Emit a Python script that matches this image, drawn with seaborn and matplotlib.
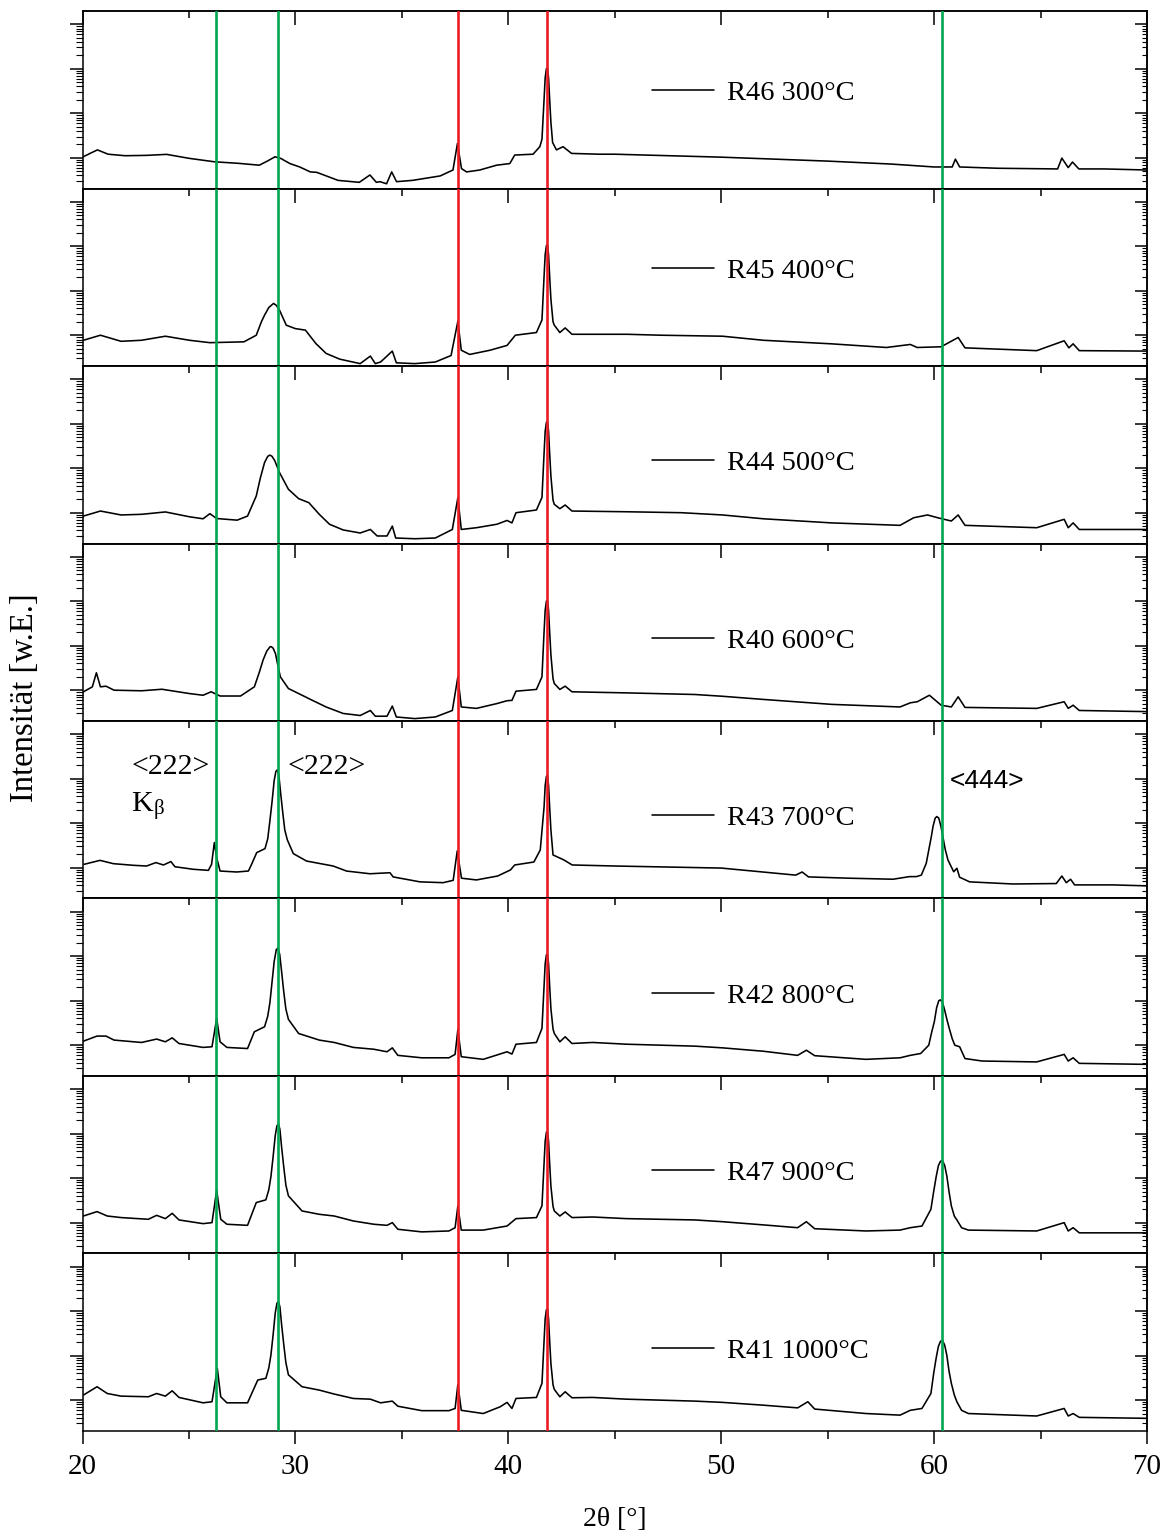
import numpy as np
import pandas as pd
import matplotlib
matplotlib.use("Agg")
import matplotlib.pyplot as plt
import seaborn as sns
from matplotlib.ticker import LogLocator, MultipleLocator, NullFormatter

# ---------------------------------------------------------------------------
# XRD scans: (2theta [deg], intensity [counts]) points, one list per sample
# ---------------------------------------------------------------------------
scan_r46 = [(20.0, 103), (20.35, 125), (20.7, 150), (21.2, 120), (22.0, 111), (23.0, 113),
            (23.95, 119), (25.0, 97), (26.2, 81), (27.3, 75), (28.3, 68), (28.7, 85),
            (29.04, 105), (29.3, 97), (29.74, 74), (30.2, 62), (30.7, 48), (31.0, 47),
            (32.0, 31), (33.0, 28), (33.5, 41), (33.8, 28), (33.97, 29), (34.28, 26),
            (34.52, 48), (34.75, 29), (35.5, 31), (36.8, 39), (37.4, 53), (37.61, 210),
            (37.8, 57), (38.04, 48), (38.66, 53), (39.45, 68), (40.07, 74), (40.3, 115),
            (41.16, 120), (41.48, 177), (41.58, 260), (41.68, 2100), (41.73, 6200),
            (41.79, 10100), (41.84, 10400), (41.89, 6200), (41.94, 2100), (42.0, 620),
            (42.08, 220), (42.26, 150), (42.57, 177), (42.97, 125), (44.3, 120), (45.0, 120),
            (50.0, 103), (55.0, 84), (58.0, 72), (60.0, 62), (60.85, 62), (61.0, 93),
            (61.2, 62), (63.0, 58), (65.8, 56), (66.0, 98), (66.3, 60), (66.5, 80),
            (66.8, 56), (68.0, 56), (70.0, 53)]

scan_r45 = [(20.04, 77), (20.84, 100), (21.81, 73), (22.77, 77), (23.89, 95), (25.02, 77),
            (25.98, 68), (27.58, 71), (28.16, 100), (28.4, 200), (28.55, 283), (28.75, 420),
            (28.97, 518), (29.1, 470), (29.25, 367), (29.57, 168), (29.99, 141), (30.47, 130),
            (30.96, 65), (31.44, 39), (32.08, 29), (33.04, 23), (33.52, 34), (33.75, 23),
            (34.0, 25), (34.55, 44), (34.74, 24), (35.61, 23), (36.57, 25), (37.31, 35),
            (37.63, 207), (37.79, 46), (38.18, 37), (39.14, 46), (39.94, 59), (40.33, 100),
            (41.32, 115), (41.58, 220), (41.68, 2150), (41.73, 6400), (41.79, 10400),
            (41.84, 10700), (41.89, 6400), (41.94, 2150), (42.0, 640), (42.1, 200),
            (42.16, 168), (42.42, 115), (42.67, 146), (42.99, 105), (45.56, 105), (47.17, 100),
            (50.06, 95), (51.98, 77), (55.19, 64), (57.76, 53), (58.88, 62), (59.21, 53),
            (60.33, 55), (61.13, 89), (61.45, 52), (64.82, 45), (66.11, 75), (66.33, 52),
            (66.53, 64), (66.82, 45), (70.0, 44)]

scan_r44 = [(20.04, 84), (20.84, 109), (21.81, 89), (22.77, 92), (23.89, 104), (25.02, 81),
            (25.66, 73), (25.98, 95), (26.3, 74), (27.26, 68), (27.75, 84), (28.16, 238),
            (28.35, 600), (28.55, 1345), (28.7, 1850), (28.8, 1970), (28.9, 1850),
            (29.03, 1470), (29.25, 800), (29.67, 336), (30.15, 207), (30.63, 168), (31.12, 92),
            (31.6, 55), (32.24, 41), (33.04, 35), (33.52, 42), (33.84, 30), (34.3, 30),
            (34.55, 50), (34.71, 27), (35.61, 26), (36.57, 27), (37.37, 42), (37.63, 218),
            (37.79, 42), (38.5, 46), (39.46, 55), (39.94, 67), (40.17, 59), (40.36, 100),
            (41.32, 115), (41.58, 220), (41.68, 2200), (41.73, 6700), (41.79, 10800),
            (41.84, 11100), (41.89, 6700), (41.94, 2200), (42.0, 660), (42.1, 190),
            (42.16, 154), (42.42, 123), (42.67, 149), (42.99, 109), (45.56, 105), (48.13, 100),
            (50.06, 89), (51.98, 73), (55.19, 59), (58.4, 52), (59.04, 77), (59.69, 89),
            (60.17, 77), (60.81, 65), (61.13, 89), (61.45, 52), (64.82, 46), (66.11, 71),
            (66.3, 46), (66.53, 59), (66.82, 42), (70.0, 42)]

scan_r40 = [(20.04, 92), (20.46, 119), (20.65, 246), (20.84, 119), (21.1, 123), (21.48, 100),
            (22.77, 97), (23.73, 105), (25.02, 84), (25.66, 77), (26.04, 92), (26.46, 74),
            (27.42, 74), (28.07, 119), (28.3, 250), (28.48, 476), (28.65, 750), (28.8, 940),
            (28.87, 950), (28.95, 880), (29.06, 670), (29.18, 350), (29.29, 200), (29.67, 109),
            (30.15, 84), (30.8, 59), (31.44, 42), (32.24, 30), (33.04, 27), (33.52, 35),
            (33.75, 26), (34.3, 26), (34.55, 44), (34.74, 25), (35.61, 23), (36.57, 25),
            (37.37, 35), (37.63, 200), (37.79, 42), (38.5, 39), (39.46, 50), (39.94, 58),
            (40.17, 59), (40.36, 95), (41.32, 104), (41.58, 200), (41.68, 2100), (41.73, 6200),
            (41.79, 10100), (41.84, 10400), (41.89, 6200), (41.94, 2100), (42.0, 620),
            (42.1, 180), (42.16, 141), (42.42, 104), (42.67, 123), (42.99, 92), (45.56, 87),
            (48.77, 80), (50.06, 73), (51.98, 62), (55.19, 48), (58.4, 42), (58.88, 52),
            (59.21, 55), (59.78, 77), (60.33, 46), (60.81, 42), (61.13, 71), (61.45, 41),
            (64.82, 39), (66.11, 55), (66.3, 39), (66.53, 46), (66.82, 35), (70.0, 33)]

scan_r43 = [(20.07, 119), (20.82, 146), (21.45, 123), (22.39, 113), (23.01, 109), (23.44, 130),
            (23.8, 115), (24.15, 137), (24.34, 105), (25.2, 92), (25.91, 87), (26.06, 119),
            (26.19, 367), (26.3, 168), (26.46, 84), (27.24, 80), (27.79, 84), (27.94, 119),
            (28.18, 218), (28.57, 268), (28.7, 450), (28.8, 1130), (28.9, 3000), (29.0, 9000),
            (29.08, 14500), (29.15, 15800), (29.22, 12000), (29.3, 5000), (29.4, 1800),
            (29.5, 700), (29.62, 420), (29.9, 207), (30.52, 141), (31.77, 109), (32.4, 84),
            (33.5, 73), (34.44, 77), (34.59, 62), (35.85, 48), (36.94, 46), (37.41, 52),
            (37.6, 238), (37.8, 58), (38.5, 53), (39.5, 65), (40.1, 89), (40.3, 115),
            (41.2, 134), (41.5, 250), (41.68, 2350), (41.73, 7000), (41.79, 11300),
            (41.84, 11700), (41.89, 7000), (41.94, 2350), (42.0, 700), (42.1, 193),
            (42.6, 150), (43.0, 115), (45.0, 109), (50.0, 98), (53.5, 68), (53.8, 80),
            (54.1, 62), (56.0, 58), (58.07, 55), (58.85, 63), (59.17, 63), (59.4, 68),
            (59.63, 125), (59.75, 250), (59.87, 500), (59.95, 850), (60.05, 1300),
            (60.13, 1410), (60.22, 1300), (60.32, 850), (60.41, 500), (60.52, 260),
            (60.65, 149), (60.92, 81), (61.07, 97), (61.2, 61), (61.67, 48), (63.7, 43),
            (65.74, 44), (66.0, 65), (66.21, 46), (66.41, 55), (66.6, 41), (68.4, 41),
            (70.0, 39)]

scan_r42 = [(20.04, 123), (20.68, 160), (21.1, 160), (21.48, 130), (22.77, 115), (23.48, 137),
            (23.89, 119), (24.21, 146), (24.53, 109), (25.66, 89), (26.08, 92), (26.3, 400),
            (26.46, 119), (26.78, 89), (27.75, 84), (28.07, 200), (28.55, 259), (28.7, 450),
            (28.8, 900), (28.9, 2600), (29.0, 7500), (29.1, 14000), (29.18, 15200),
            (29.26, 11000), (29.35, 4500), (29.45, 1600), (29.55, 650), (29.67, 380),
            (30.15, 183), (31.12, 130), (31.82, 115), (32.72, 89), (33.68, 81), (34.3, 71),
            (34.55, 87), (34.81, 59), (35.93, 52), (37.21, 52), (37.5, 62), (37.63, 226),
            (37.79, 55), (38.82, 48), (39.94, 71), (40.17, 63), (40.36, 105), (41.32, 115),
            (41.58, 238), (41.68, 2200), (41.73, 6700), (41.79, 10800), (41.84, 11100),
            (41.89, 6700), (41.94, 2200), (42.0, 660), (42.1, 230), (42.16, 183),
            (42.42, 119), (42.67, 154), (42.99, 109), (43.96, 115), (45.56, 105), (48.77, 95),
            (50.06, 87), (51.98, 73), (53.59, 59), (54.0, 77), (54.39, 58), (56.8, 48),
            (58.4, 52), (58.88, 59), (59.37, 65), (59.75, 100), (59.88, 190), (60.01, 336),
            (60.12, 700), (60.22, 1000), (60.3, 1040), (60.4, 900), (60.5, 600), (60.6, 380),
            (60.71, 240), (60.85, 140), (60.97, 100), (61.2, 92), (61.45, 50), (62.26, 44),
            (64.82, 42), (66.11, 62), (66.3, 44), (66.53, 52), (66.82, 39), (70.0, 37)]

scan_r47 = [(20.04, 141), (20.68, 177), (21.16, 141), (21.81, 130), (23.09, 119), (23.48, 146),
            (23.89, 123), (24.21, 162), (24.53, 115), (25.66, 95), (26.08, 100), (26.3, 536),
            (26.49, 119), (26.78, 92), (27.75, 87), (28.16, 283), (28.61, 325), (28.75, 550),
            (28.85, 1100), (28.95, 3000), (29.05, 9000), (29.13, 15000), (29.2, 16600),
            (29.27, 12500), (29.35, 5000), (29.45, 1800), (29.55, 700), (29.67, 400),
            (30.31, 183), (31.12, 154), (31.82, 141), (32.72, 109), (33.68, 92), (34.3, 87),
            (34.55, 100), (34.81, 71), (35.93, 62), (37.21, 65), (37.5, 77), (37.63, 238),
            (37.79, 68), (38.82, 68), (39.94, 84), (40.36, 123), (41.32, 130), (41.58, 238),
            (41.68, 2200), (41.73, 6700), (41.79, 10800), (41.84, 11100), (41.89, 6700),
            (41.94, 2200), (42.0, 660), (42.1, 230), (42.16, 183), (42.42, 141), (42.67, 174),
            (42.99, 130), (43.96, 134), (45.56, 123), (48.77, 115), (50.06, 105), (51.98, 89),
            (53.59, 77), (54.0, 105), (54.39, 73), (56.8, 65), (58.4, 68), (58.88, 77),
            (59.43, 84), (59.85, 200), (59.98, 500), (60.1, 1100), (60.2, 1900), (60.3, 2400),
            (60.4, 2460), (60.5, 1900), (60.6, 1100), (60.7, 500), (60.81, 238), (60.95, 140),
            (61.07, 115), (61.29, 77), (61.61, 68), (64.82, 65), (66.11, 100), (66.3, 65),
            (66.53, 77), (66.82, 59), (70.0, 59)]

scan_r41 = [(20.04, 130), (20.68, 200), (21.16, 141), (21.81, 123), (23.09, 119), (23.48, 141),
            (23.89, 123), (24.21, 162), (24.53, 115), (25.66, 87), (26.08, 92), (26.33, 518),
            (26.49, 119), (26.78, 87), (27.75, 87), (28.23, 283), (28.61, 309), (28.75, 530),
            (28.85, 1050), (28.95, 2900), (29.05, 9000), (29.13, 15000), (29.2, 16600),
            (29.27, 12500), (29.35, 5000), (29.45, 1800), (29.55, 700), (29.67, 370),
            (30.31, 200), (31.12, 168), (31.82, 137), (32.72, 109), (33.52, 105), (34.0, 87),
            (34.55, 95), (34.81, 73), (35.93, 58), (37.21, 58), (37.5, 65), (37.63, 226),
            (37.79, 59), (38.82, 50), (39.62, 71), (39.94, 89), (40.17, 65), (40.36, 109),
            (41.32, 115), (41.58, 238), (41.68, 2200), (41.73, 6700), (41.79, 10800),
            (41.84, 11100), (41.89, 6700), (41.94, 2200), (42.0, 660), (42.1, 220),
            (42.16, 174), (42.42, 119), (42.67, 154), (42.99, 113), (43.96, 115), (45.56, 105),
            (48.77, 95), (50.06, 89), (51.98, 77), (53.59, 67), (54.07, 92), (54.39, 63),
            (56.8, 50), (58.4, 46), (58.88, 59), (59.43, 65), (59.85, 141), (59.98, 400),
            (60.1, 900), (60.2, 1600), (60.3, 2100), (60.4, 2180), (60.5, 1700), (60.6, 1000),
            (60.7, 450), (60.81, 238), (60.95, 130), (61.07, 92), (61.29, 59), (61.61, 50),
            (64.82, 44), (66.11, 65), (66.3, 44), (66.53, 50), (66.82, 41), (70.0, 39)]

sample_labels = ["R46 300°C", "R45 400°C", "R44 500°C", "R40 600°C",
                 "R43 700°C", "R42 800°C", "R47 900°C", "R41 1000°C"]
scans = [scan_r46, scan_r45, scan_r44, scan_r40, scan_r43, scan_r42, scan_r47, scan_r41]

# reference reflections: substrate (red) and film orders (green)
substrate_lines = [37.62, 41.8]
film_lines = [26.25, 29.2, 60.35]

# vertical position of each legend entry (axes fraction)
legend_y = [0.538, 0.538, 0.453, 0.453, 0.453, 0.453, 0.453, 0.453]

X_MIN, X_MAX = 20, 70
Y_LO, Y_HI = 20.3, 1.976e5

GREEN = "#00A651"
RED = "#ED1C24"

sns.set_theme(style="ticks")
plt.rcParams["font.family"] = ["Liberation Serif", "DejaVu Serif"]
plt.rcParams["mathtext.fontset"] = "stix"
plt.rcParams["axes.linewidth"] = 1.1
for key in ("text.color", "axes.labelcolor", "xtick.color", "ytick.color", "axes.edgecolor"):
    plt.rcParams[key] = "black"

fig, axes = plt.subplots(len(scans), 1, figsize=(11.71, 15.37), dpi=100)
fig.subplots_adjust(left=0.0705, right=0.9795, top=0.9928, bottom=0.069, hspace=0)


def log_locators():
    return (LogLocator(base=10, numticks=12),
            LogLocator(base=10, subs=np.arange(2, 10), numticks=120))


n = len(scans)
for k, (ax, scan) in enumerate(zip(axes, scans)):
    df = pd.DataFrame(scan, columns=["2theta", "I"])
    sns.lineplot(data=df, x="2theta", y="I", ax=ax, color="black", lw=1.15,
                 sort=False, estimator=None, label=sample_labels[k], zorder=3)
    for xv in film_lines:
        ax.axvline(xv, color=GREEN, lw=1.9, zorder=4)
    for xv in substrate_lines:
        ax.axvline(xv, color=RED, lw=1.9, zorder=4)

    ax.set_xlim(X_MIN, X_MAX)
    ax.set_yscale("log")
    ax.set_ylim(Y_LO, Y_HI)
    ax.set_xlabel("")
    ax.set_ylabel("")

    ax.xaxis.set_major_locator(MultipleLocator(10))
    ax.xaxis.set_minor_locator(MultipleLocator(5))
    maj, mnr = log_locators()
    ax.yaxis.set_major_locator(maj)
    ax.yaxis.set_minor_locator(mnr)
    ax.yaxis.set_major_formatter(NullFormatter())
    ax.yaxis.set_minor_formatter(NullFormatter())

    ax.tick_params(axis="y", which="major", direction="out", length=9.4, width=1.1,
                   color="black", left=True, right=False, labelleft=False)
    ax.tick_params(axis="y", which="minor", direction="out", length=5.0, width=0.8,
                   color="black", left=True, right=False)
    if k < n - 1:
        ax.tick_params(axis="x", which="both", bottom=False, top=False, labelbottom=False)
    else:
        ax.tick_params(axis="x", which="major", direction="out", length=9.4, width=1.1,
                       color="black", labelsize=21, pad=7, top=False, labelcolor="black")
        ax.tick_params(axis="x", which="minor", direction="out", length=5.8, width=1.1,
                       color="black", top=False)

    for sp in ax.spines.values():
        sp.set_color("black")
        sp.set_linewidth(1.1)

    # inward ticks on the top and right edges
    top = ax.secondary_xaxis("top")
    top.xaxis.set_major_locator(MultipleLocator(10))
    top.xaxis.set_minor_locator(MultipleLocator(5))
    top.tick_params(which="major", direction="in", length=10, width=1.1,
                    color="black", labeltop=False)
    top.tick_params(which="minor", direction="in", length=5, width=1.1, color="black")
    top.spines["top"].set_linewidth(1.1)

    right = ax.secondary_yaxis("right")
    rmaj, rmin = log_locators()
    right.yaxis.set_major_locator(rmaj)
    right.yaxis.set_minor_locator(rmin)
    right.yaxis.set_major_formatter(NullFormatter())
    right.yaxis.set_minor_formatter(NullFormatter())
    right.tick_params(which="major", direction="in", length=8.6, width=1.1,
                      color="black", labelright=False)
    right.tick_params(which="minor", direction="in", length=3.6, width=0.8, color="black")
    right.spines["right"].set_linewidth(1.1)

    leg = ax.legend(loc="center left", bbox_to_anchor=(0.535, legend_y[k]), frameon=False,
                    fontsize=20.5, handlelength=2.16, handletextpad=0.47, borderpad=0,
                    borderaxespad=0)
    for t in leg.get_texts():
        t.set_color("black")

# reflection labels in the 700 °C panel
ax5 = axes[4]
trans = ("data", "axes fraction")
ax5.annotate("<222>", xy=(22.28, 0.699), xycoords=trans, fontsize=21.5,
             ha="left", va="baseline", color="black")
ax5.annotate(r"K$_{\mathregular{β}}$", xy=(22.28, 0.489), xycoords=trans, fontsize=21.5,
             ha="left", va="baseline", color="black")
ax5.annotate("<222>", xy=(29.63, 0.699), xycoords=trans, fontsize=21.5,
             ha="left", va="baseline", color="black")
ax5.annotate("<444>", xy=(60.73, 0.6225), xycoords=trans, fontsize=19,
             ha="left", va="baseline", color="black",
             family=["Liberation Sans", "DejaVu Sans"])

fig.text(615 / 1171, 1 - 1520 / 1537, "2θ [°]", ha="center", va="center",
         fontsize=20, color="black")
fig.text(25 / 1171, 1 - 698 / 1537, "Intensität [w.E.]", rotation=90,
         ha="center", va="center", fontsize=23.5, color="black")

fig.savefig("out.png", dpi=100)
